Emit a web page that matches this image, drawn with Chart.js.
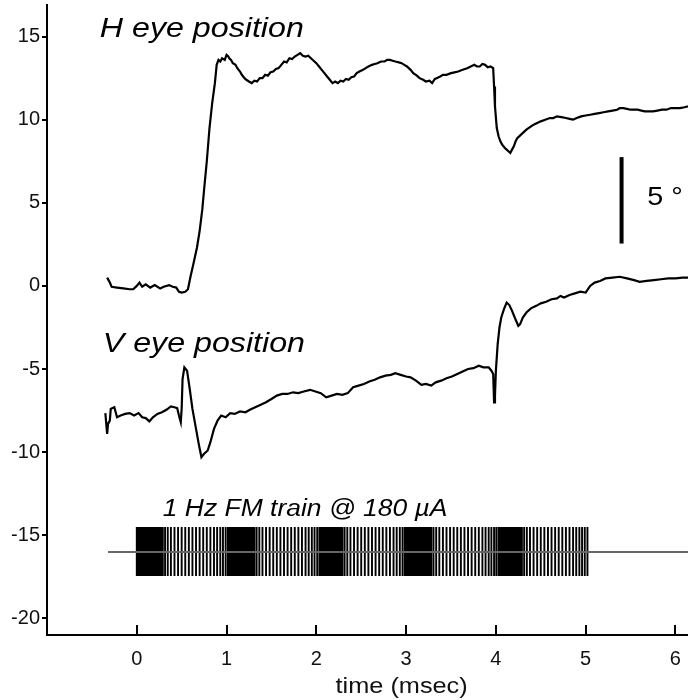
<!DOCTYPE html>
<html>
<head>
<meta charset="utf-8">
<title>Eye position with FM stimulation</title>
<script src="https://cdn.jsdelivr.net/npm/chart.js@4.4.1/dist/chart.umd.min.js"></script>
<style>
  html, body { margin: 0; padding: 0; background: #fff; }
  #wrap { width: 688px; height: 700px; }
</style>
</head>
<body>
<div id="wrap"><canvas id="eyeChart" width="688" height="700"></canvas></div>
<script>
// axis ticks
const xTicks = [0, 1, 2, 3, 4, 5, 6];
const yTicks = [-20, -15, -10, -5, 0, 5, 10, 15];

// horizontal eye position trace [time, deg]
const hEye = [
  [-0.33, 0.5], [-0.30, 0.2], [-0.28, -0.05], [-0.22, -0.1], [-0.15, -0.15], [-0.08, -0.2], [-0.04, -0.2],
  [0.00, 0.0], [0.03, 0.2], [0.06, -0.05], [0.10, 0.1], [0.15, -0.1], [0.20, 0.05], [0.26, -0.15],
  [0.30, -0.05], [0.36, 0.05], [0.40, -0.05], [0.44, -0.1], [0.47, -0.35], [0.50, -0.4], [0.54, -0.35],
  [0.57, -0.2], [0.60, 0.6], [0.63, 1.3], [0.67, 2.3], [0.70, 3.3], [0.73, 4.6], [0.75, 5.8], [0.78, 7.5],
  [0.81, 9.5], [0.84, 11.0], [0.87, 12.2], [0.89, 13.3], [0.91, 13.6], [0.93, 13.5], [0.95, 13.7],
  [0.98, 13.6], [1.00, 13.9], [1.02, 13.8], [1.03, 13.7], [1.05, 13.6], [1.07, 13.4], [1.10, 13.3],
  [1.12, 13.1], [1.15, 12.9], [1.17, 12.7], [1.20, 12.5], [1.22, 12.4], [1.25, 12.3], [1.28, 12.2],
  [1.31, 12.35], [1.34, 12.3], [1.37, 12.5], [1.40, 12.5], [1.43, 12.7], [1.46, 12.65], [1.49, 12.85],
  [1.52, 12.9], [1.55, 13.05], [1.58, 13.1], [1.61, 13.3], [1.64, 13.5], [1.67, 13.45], [1.70, 13.7],
  [1.73, 13.65], [1.76, 13.8], [1.79, 13.9], [1.82, 14.0], [1.85, 13.85], [1.88, 13.8], [1.91, 13.85],
  [1.94, 13.7], [1.97, 13.55], [2.00, 13.4], [2.03, 13.2], [2.06, 13.0], [2.09, 12.8], [2.12, 12.6],
  [2.15, 12.4], [2.18, 12.2], [2.21, 12.3], [2.24, 12.2], [2.27, 12.35], [2.30, 12.3], [2.33, 12.45],
  [2.36, 12.4], [2.39, 12.55], [2.42, 12.6], [2.45, 12.8], [2.48, 12.9], [2.52, 13.0], [2.55, 13.1],
  [2.58, 13.2], [2.62, 13.3], [2.65, 13.35], [2.68, 13.4], [2.72, 13.5], [2.76, 13.5], [2.79, 13.6],
  [2.82, 13.6], [2.85, 13.55], [2.88, 13.5], [2.92, 13.45], [2.95, 13.4], [2.98, 13.3], [3.01, 13.2],
  [3.05, 13.0], [3.08, 12.8], [3.12, 12.65], [3.15, 12.5], [3.19, 12.4], [3.22, 12.3], [3.26, 12.35],
  [3.29, 12.2], [3.32, 12.45], [3.34, 12.5], [3.38, 12.6], [3.41, 12.7], [3.45, 12.7], [3.50, 12.8],
  [3.54, 12.85], [3.58, 12.9], [3.63, 13.0], [3.68, 13.1], [3.72, 13.2], [3.76, 13.3], [3.79, 13.2],
  [3.82, 13.2], [3.85, 13.35], [3.88, 13.3], [3.91, 13.15], [3.94, 13.2], [3.97, 13.1], [3.98, 12.0],
  [3.99, 10.8], [4.01, 9.5], [4.03, 9.0], [4.05, 8.7], [4.07, 8.5], [4.10, 8.3], [4.12, 8.2], [4.14, 8.1],
  [4.16, 8.0], [4.18, 8.2], [4.20, 8.4], [4.22, 8.7], [4.24, 8.9], [4.26, 9.0], [4.28, 9.1], [4.31, 9.25],
  [4.34, 9.4], [4.38, 9.55], [4.42, 9.7], [4.46, 9.8], [4.50, 9.9], [4.55, 10.0], [4.60, 10.1],
  [4.64, 10.1], [4.68, 10.2], [4.73, 10.15], [4.78, 10.1], [4.82, 10.05], [4.86, 10.0], [4.90, 10.1],
  [4.95, 10.2], [5.00, 10.25], [5.05, 10.3], [5.10, 10.35], [5.15, 10.4], [5.20, 10.45], [5.25, 10.5],
  [5.30, 10.55], [5.35, 10.6], [5.38, 10.7], [5.42, 10.7], [5.46, 10.65], [5.50, 10.6], [5.54, 10.6],
  [5.58, 10.6], [5.62, 10.55], [5.66, 10.5], [5.70, 10.5], [5.75, 10.5], [5.80, 10.55], [5.85, 10.6],
  [5.90, 10.6], [5.95, 10.7], [6.00, 10.7], [6.05, 10.7], [6.10, 10.75], [6.14, 10.8]
];

// vertical eye position trace [time, deg]
const vEye = [
  [-0.35, -7.65], [-0.33, -8.9], [-0.32, -8.3], [-0.30, -8.1], [-0.29, -7.4], [-0.27, -7.35], [-0.25, -7.3],
  [-0.22, -7.9], [-0.18, -7.8], [-0.13, -7.7], [-0.08, -7.65], [-0.03, -7.8], [0.02, -7.65], [0.06, -7.9],
  [0.10, -7.95], [0.14, -8.15], [0.18, -7.9], [0.23, -7.7], [0.28, -7.6], [0.33, -7.45], [0.38, -7.25],
  [0.42, -7.3], [0.45, -7.35], [0.47, -7.8], [0.49, -8.2], [0.50, -7.4], [0.51, -5.6], [0.53, -4.9],
  [0.56, -5.1], [0.59, -6.2], [0.62, -7.4], [0.66, -8.6], [0.69, -9.5], [0.72, -10.3], [0.75, -10.1],
  [0.79, -9.9], [0.82, -9.4], [0.86, -8.6], [0.90, -8.1], [0.94, -7.8], [0.99, -7.9], [1.04, -7.65],
  [1.09, -7.7], [1.15, -7.55], [1.21, -7.6], [1.26, -7.45], [1.32, -7.3], [1.38, -7.15], [1.44, -7.0],
  [1.50, -6.8], [1.56, -6.6], [1.62, -6.5], [1.68, -6.5], [1.74, -6.4], [1.80, -6.45], [1.86, -6.35],
  [1.93, -6.25], [1.99, -6.35], [2.05, -6.45], [2.11, -6.7], [2.17, -6.6], [2.23, -6.5], [2.29, -6.55],
  [2.35, -6.45], [2.41, -6.1], [2.47, -6.0], [2.53, -5.9], [2.59, -5.75], [2.65, -5.65], [2.71, -5.5],
  [2.77, -5.4], [2.83, -5.35], [2.88, -5.25], [2.94, -5.35], [3.00, -5.45], [3.05, -5.5], [3.11, -5.7],
  [3.17, -5.95], [3.22, -5.9], [3.28, -6.0], [3.33, -5.8], [3.39, -5.7], [3.45, -5.55], [3.51, -5.45],
  [3.57, -5.3], [3.63, -5.15], [3.69, -5.0], [3.75, -4.95], [3.81, -4.8], [3.86, -4.9], [3.92, -4.9],
  [3.95, -5.1], [3.97, -5.3], [3.98, -7.0], [3.99, -6.6], [4.00, -5.1], [4.02, -3.5], [4.04, -2.5],
  [4.06, -1.9], [4.09, -1.4], [4.12, -1.0], [4.15, -1.15], [4.18, -1.5], [4.21, -1.9], [4.25, -2.4],
  [4.27, -2.3], [4.30, -1.9], [4.34, -1.6], [4.39, -1.35], [4.45, -1.2], [4.50, -1.05], [4.56, -0.95],
  [4.62, -0.8], [4.68, -0.75], [4.72, -0.6], [4.76, -0.7], [4.82, -0.55], [4.88, -0.45], [4.94, -0.35],
  [5.00, -0.4], [5.05, 0.0], [5.10, 0.2], [5.16, 0.3], [5.22, 0.45], [5.30, 0.5], [5.38, 0.55],
  [5.46, 0.45], [5.54, 0.35], [5.60, 0.25], [5.68, 0.3], [5.76, 0.35], [5.84, 0.4], [5.92, 0.45],
  [6.00, 0.45], [6.08, 0.5], [6.14, 0.5]
];

// stimulation pulse times (FM train)
const pulseTimes = [
  0.00, 0.01, 0.02, 0.03, 0.04, 0.05, 0.06, 0.07, 0.08, 0.09, 0.10, 0.11, 0.12, 0.13, 0.14, 0.15, 0.16,
  0.17, 0.18, 0.19, 0.20, 0.21, 0.22, 0.235, 0.25, 0.27, 0.29, 0.315, 0.345, 0.38, 0.42, 0.46, 0.50,
  0.54, 0.58, 0.62, 0.66, 0.70, 0.74, 0.78, 0.82, 0.86, 0.895, 0.93, 0.96, 0.99, 1.015, 1.035,
  1.04, 1.05, 1.06, 1.07, 1.08, 1.09, 1.10, 1.11, 1.12, 1.13, 1.14, 1.15, 1.16, 1.17, 1.18, 1.19, 1.20,
  1.21, 1.22, 1.23, 1.24, 1.255, 1.27, 1.29, 1.31, 1.335, 1.365, 1.40, 1.44, 1.48, 1.52, 1.56, 1.60,
  1.64, 1.68, 1.72, 1.76, 1.80, 1.84, 1.88, 1.915, 1.95, 1.98, 2.01, 2.035, 2.05,
  2.06, 2.07, 2.08, 2.09, 2.10, 2.11, 2.12, 2.13, 2.14, 2.15, 2.16, 2.17, 2.18, 2.19, 2.20, 2.21, 2.22,
  2.235, 2.25, 2.27, 2.29, 2.315, 2.345, 2.38, 2.42, 2.46, 2.50, 2.54, 2.58, 2.62, 2.66, 2.70, 2.74,
  2.78, 2.82, 2.86, 2.895, 2.93, 2.96, 2.985, 3.005,
  3.02, 3.03, 3.04, 3.05, 3.06, 3.07, 3.08, 3.09, 3.10, 3.11, 3.12, 3.13, 3.14, 3.15, 3.16, 3.17, 3.18,
  3.19, 3.20, 3.21, 3.225, 3.24, 3.26, 3.28, 3.305, 3.335, 3.37, 3.41, 3.45, 3.49, 3.53, 3.57, 3.61,
  3.65, 3.69, 3.73, 3.77, 3.81, 3.85, 3.885, 3.92, 3.95, 3.98, 4.005, 4.03,
  4.05, 4.06, 4.07, 4.08, 4.09, 4.10, 4.11, 4.12, 4.13, 4.14, 4.15, 4.16, 4.17, 4.18, 4.19, 4.20, 4.21,
  4.22, 4.235, 4.25, 4.27, 4.29, 4.315, 4.345, 4.38, 4.42, 4.46, 4.50, 4.54, 4.58, 4.62, 4.66, 4.70,
  4.74, 4.78, 4.82, 4.86, 4.895, 4.93, 4.96, 4.99, 5.02
];
const pulseLevels = [-14.5, -17.45];   // top and bottom of each pulse mark
const stimBaseline = [[-0.32, -16], [6.14, -16]];
const scaleBar = [[5.4, 2.55], [5.4, 7.75]];  // 5 deg calibration bar

const toXY = arr => arr.map(p => ({ x: p[0], y: p[1] }));

// each pulse is a short vertical segment, separated by a gap
const pulsePoints = [];
pulseTimes.forEach(t => {
  pulsePoints.push({ x: t, y: pulseLevels[0] });
  pulsePoints.push({ x: t, y: pulseLevels[1] });
  pulsePoints.push({ x: t, y: null });
});

const textLabels = [
  { text: 'H eye position', x: -0.412, y: 15.0, size: 28, italic: true },
  { text: 'V eye position', x: -0.379, y: -3.98, size: 28, italic: true },
  { text: '1 Hz FM train @ 180 \u00b5A', x: 0.29, y: -13.86, size: 23, italic: true },
  { text: '5 \u00b0', x: 5.686, y: 4.88, size: 25, italic: false }
];

const FONT = '"Liberation Sans", Arial, Helvetica, sans-serif';

const annotationsPlugin = {
  id: 'annotations',
  afterDraw(chart) {
    const ctx = chart.ctx;
    const xs = chart.scales.x;
    const ys = chart.scales.y;

    // inward x ticks
    ctx.save();
    ctx.strokeStyle = '#000';
    ctx.lineWidth = 2;
    xTicks.forEach(v => {
      const px = Math.round(xs.getPixelForValue(v));
      ctx.beginPath();
      ctx.moveTo(px, xs.top);
      ctx.lineTo(px, xs.top - 10);
      ctx.stroke();
    });
    ctx.restore();

    // text labels, slightly widened like the original figure
    textLabels.forEach(l => {
      ctx.save();
      ctx.fillStyle = '#000';
      ctx.font = (l.italic ? 'italic ' : '') + l.size + 'px ' + FONT;
      ctx.textBaseline = 'alphabetic';
      ctx.textAlign = 'left';
      ctx.translate(xs.getPixelForValue(l.x), ys.getPixelForValue(l.y));
      ctx.scale(1.15, 1);
      ctx.fillText(l.text, 0, 0);
      ctx.restore();
    });

    // axis title
    ctx.save();
    ctx.fillStyle = '#111';
    ctx.font = '22px ' + FONT;
    ctx.textAlign = 'center';
    ctx.textBaseline = 'alphabetic';
    ctx.translate(xs.getPixelForValue(2.95), xs.top + 58);
    ctx.scale(1.15, 1);
    ctx.fillText('time (msec)', 0, 0);
    ctx.restore();
  }
};

const ctx = document.getElementById('eyeChart').getContext('2d');
new Chart(ctx, {
  type: 'line',
  data: {
    datasets: [
      {
        label: 'stim baseline',
        data: toXY(stimBaseline),
        borderColor: '#666',
        borderWidth: 2,
        pointRadius: 0,
        order: 0
      },
      {
        label: 'pulses',
        data: pulsePoints,
        borderColor: '#000',
        borderWidth: 1.9,
        pointRadius: 0,
        spanGaps: false,
        order: 1
      },
      {
        label: 'H eye position',
        data: toXY(hEye),
        borderColor: '#000',
        borderWidth: 2.2,
        pointRadius: 0,
        order: 2
      },
      {
        label: 'V eye position',
        data: toXY(vEye),
        borderColor: '#000',
        borderWidth: 2.2,
        pointRadius: 0,
        order: 2
      },
      {
        label: 'scale bar',
        data: toXY(scaleBar),
        borderColor: '#000',
        borderWidth: 4,
        pointRadius: 0,
        borderCapStyle: 'butt',
        order: 2
      }
    ]
  },
  options: {
    responsive: false,
    animation: false,
    layout: { padding: { top: 5, right: 0, left: 0, bottom: 0 } },
    plugins: {
      legend: { display: false },
      tooltip: { enabled: false }
    },
    scales: {
      x: {
        type: 'linear',
        min: -1,
        max: 6.14,
        afterBuildTicks: scale => { scale.ticks = xTicks.map(v => ({ value: v })); },
        afterFit: scale => {
          scale.height = 65;
          scale.paddingLeft = 0;
          scale.paddingRight = 0;
        },
        grid: { display: false, drawTicks: false },
        border: { display: true, color: '#000', width: 2 },
        ticks: {
          padding: 12,
          color: '#111',
          font: { family: FONT, size: 20 },
          maxRotation: 0,
          autoSkip: false
        }
      },
      y: {
        type: 'linear',
        min: -21,
        max: 16.9,
        afterBuildTicks: scale => { scale.ticks = yTicks.map(v => ({ value: v })); },
        afterFit: scale => {
          scale.width = 47;
          scale.paddingTop = 0;
          scale.paddingBottom = 0;
        },
        grid: {
          display: true,
          drawOnChartArea: false,
          drawTicks: true,
          tickLength: 5,
          color: '#000',
          lineWidth: 2
        },
        border: { display: true, color: '#000', width: 2 },
        ticks: {
          padding: 2,
          color: '#111',
          font: { family: FONT, size: 20 },
          autoSkip: false
        }
      }
    }
  },
  plugins: [annotationsPlugin]
});
</script>
</body>
</html>
